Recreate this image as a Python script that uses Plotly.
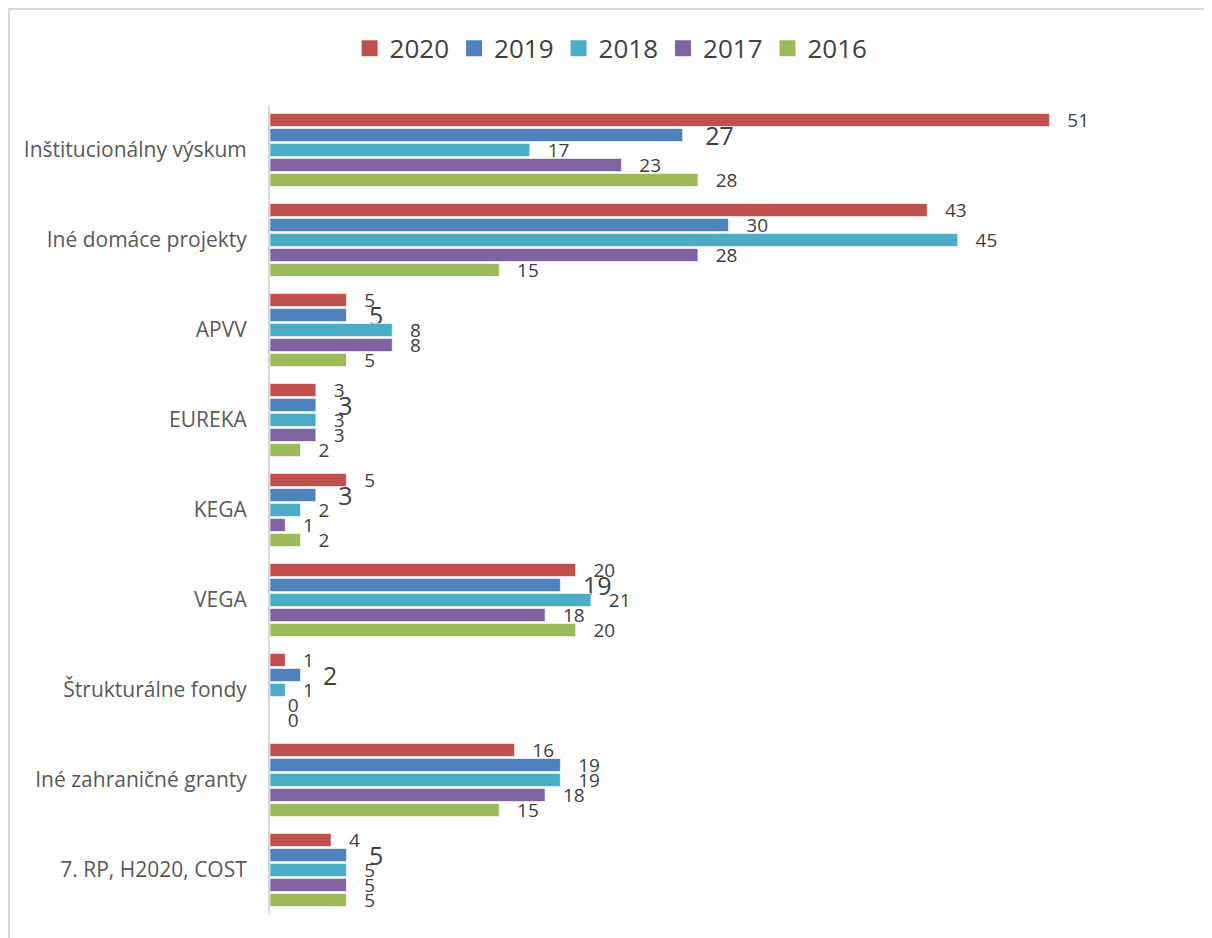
import plotly.graph_objects as go

categories = ["Inštitucionálny výskum", "Iné domáce projekty", "APVV", "EUREKA", "KEGA",
              "VEGA", "Štrukturálne fondy", "Iné zahraničné granty", "7. RP, H2020, COST"]
years = ["2020", "2019", "2018", "2017", "2016"]
v2020 = [51, 43, 5, 3, 5, 20, 1, 16, 4]
v2019 = [27, 30, 5, 3, 3, 19, 2, 19, 5]
v2018 = [17, 45, 8, 3, 2, 21, 1, 19, 5]
v2017 = [23, 28, 8, 3, 1, 18, 0, 18, 5]
v2016 = [28, 15, 5, 2, 2, 20, 0, 15, 5]
series = [v2020, v2019, v2018, v2017, v2016]
colors = ["#C0504D", "#4F81BD", "#4BACC6", "#8064A2", "#9BBB59"]

# most labels are small; some 2019 labels are bigger in the original
SMALL, BIG = 19, 25
big_2019 = [True, False, True, True, True, True, True, False, True]

FONT = "Open Sans, Noto Sans, sans-serif"

fig = go.Figure()
for name, vals, col in zip(years, series, colors):
    if name == "2019":
        sizes = [BIG if b else SMALL for b in big_2019]
    else:
        sizes = SMALL
    fig.add_trace(go.Bar(
        y=categories, x=vals, name=name, orientation="h", showlegend=False,
        marker=dict(color=col, line=dict(color="rgba(255,255,255,0.6)", width=1)),
        text=vals, texttemplate="   %{x}", textposition="outside",
        textfont=dict(size=sizes, color="#404040", family=FONT),
        constraintext="none", cliponaxis=False,
    ))

# legend entries with bigger square swatches
for name, col in zip(years, colors):
    fig.add_trace(go.Scatter(
        x=[None], y=[None], mode="markers", name=name,
        marker=dict(symbol="square", size=18, color=col),
    ))

# the page body adds 8px around the figure, so the figure is a bit smaller
fig.update_layout(
    width=1204, height=930,
    margin=dict(l=262, r=25, t=97, b=23),
    paper_bgcolor="white", plot_bgcolor="white",
    barmode="group", bargap=0.167, bargroupgap=0.13,
    font=dict(family=FONT, color="#595959"),
    legend=dict(orientation="h", x=0.372, xanchor="center", y=1.070, yanchor="middle",
                font=dict(size=26, color="#404040"), itemwidth=30, traceorder="normal",
                itemsizing="trace"),
    xaxis=dict(range=[0, 60], visible=False, showgrid=False),
    yaxis=dict(autorange="reversed", showgrid=False, showline=True, linecolor="#D9D9D9",
               linewidth=2, ticks="", ticklabelstandoff=17,
               tickfont=dict(size=21, color="#595959")),
    shapes=[dict(type="rect", xref="paper", yref="paper", x0=-0.2846, x1=1.2,
                 y0=-0.2, y1=1.1185, line=dict(color="#D9D9D9", width=2), layer="below")],
)

fig.write_html("out.html")
